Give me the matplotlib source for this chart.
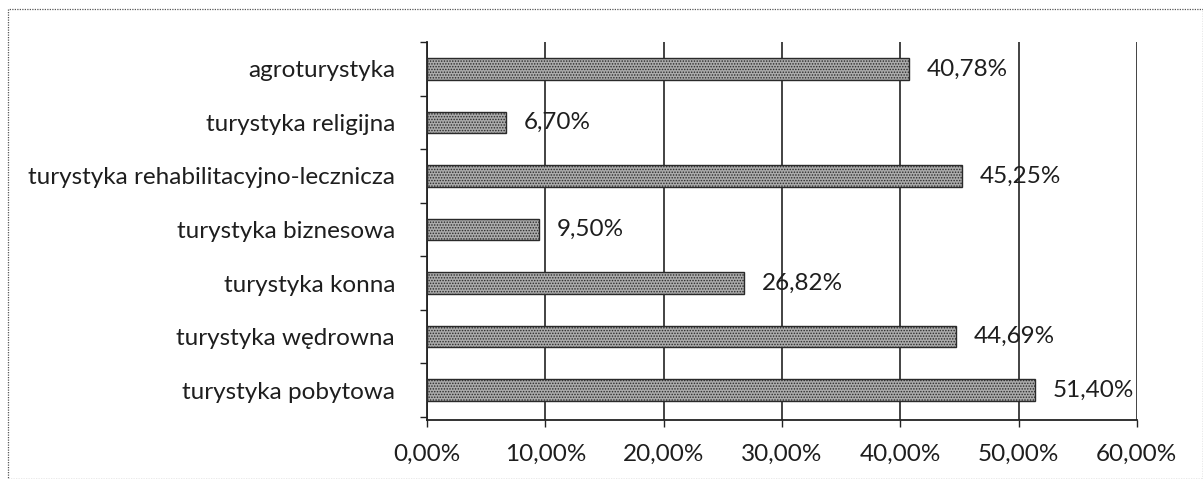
import numpy as np
import matplotlib.pyplot as plt
from matplotlib.ticker import FuncFormatter

# Formy turystyki i udział odpowiedzi (%)
kategorie = ["turystyka pobytowa", "turystyka wędrowna", "turystyka konna",
             "turystyka biznesowa", "turystyka rehabilitacyjno-lecznicza",
             "turystyka religijna", "agroturystyka"]
wartosci = [51.40, 44.69, 26.82, 9.50, 45.25, 6.70, 40.78]
ticki_x = [0, 10, 20, 30, 40, 50, 60]

plt.rcParams['font.family'] = ['Lato', 'DejaVu Sans']
plt.rcParams['hatch.color'] = '#505050'
plt.rcParams['hatch.linewidth'] = 0.7


def pl_proc(v, pos=None):
    return f"{v:.2f}".replace(".", ",") + "%"


fig = plt.figure(figsize=(12.03, 4.79), dpi=100)
ax = fig.add_axes([0.355, 0.123, 0.59, 0.789])

y = np.arange(len(kategorie))
ax.barh(y, wartosci, height=0.4, color='#ababab', hatch='......',
        edgecolor='#2a2a2a', linewidth=1.0, zorder=3)

for yi, v in zip(y, wartosci):
    ax.text(v + 1.5, yi, pl_proc(v), va='center', ha='left',
            fontsize=17.5, color='#1e1e1e', zorder=4)

ax.set_xlim(0, 60)
ax.set_ylim(-0.56, 6.48)
ax.set_xticks(ticki_x)
ax.xaxis.set_major_formatter(FuncFormatter(pl_proc))
ax.set_yticks(y)
ax.set_yticklabels(kategorie)
ax.set_yticks(np.arange(-0.5, 7, 1), minor=True)
ax.tick_params(axis='y', which='major', length=0, pad=23, labelsize=17.5,
               labelcolor='#1e1e1e')
ax.tick_params(axis='y', which='minor', length=5, width=1, color='#222222')
ax.tick_params(axis='x', length=5, width=1, color='#222222', pad=12,
               labelsize=17.5, labelcolor='#1e1e1e')

ax.grid(axis='x', color='#222222', linewidth=1.2, zorder=1)
for s in ['top', 'right']:
    ax.spines[s].set_visible(False)
for s in ['left', 'bottom']:
    ax.spines[s].set_color('#222222')
    ax.spines[s].set_linewidth(1.3)

# cienka ramka wokół całego wykresu
fig.patches.append(plt.Rectangle((0.007, 0.0), 0.993, 0.982,
                                 transform=fig.transFigure, fill=False,
                                 edgecolor='#555555', linewidth=0.9,
                                 linestyle=(0, (1, 1))))

fig.savefig("out.png", dpi=100, facecolor='white')
